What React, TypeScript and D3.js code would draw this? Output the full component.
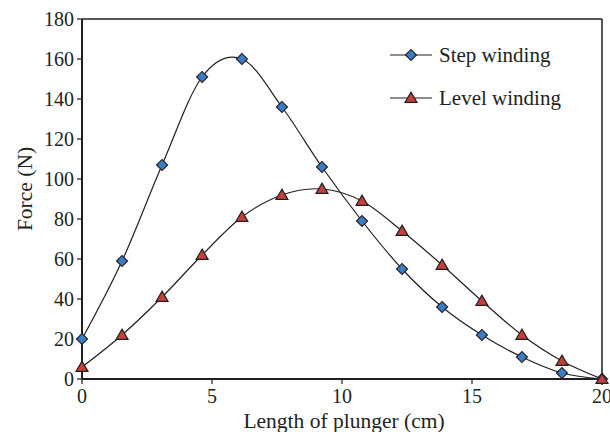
import React from 'react'
import * as d3 from 'd3'

// x positions (cm) of the measured points
const lengths = [0, 1.54, 3.08, 4.62, 6.15, 7.69, 9.23, 10.77, 12.31, 13.85, 15.38, 16.92, 18.46, 20]
const stepWinding = [20, 59, 107, 151, 160, 136, 106, 79, 55, 36, 22, 11, 3, 0]
const levelWinding = [6, 22, 41, 62, 81, 92, 95, 89, 74, 57, 39, 22, 9, 0]
const xTicks = [0, 5, 10, 15, 20]
const yTicks = [0, 20, 40, 60, 80, 100, 120, 140, 160, 180]
const seriesNames = ['Step winding', 'Level winding']

const W = 610
const H = 432
const left = 82
const right = 602
const top = 19
const bottom = 379

const font = '"Liberation Serif", "Times New Roman", serif'
const blue = '#3b7cc6'
const red = '#c3403d'
const ink = '#231f20'

const App = () => {
    const x = d3.scaleLinear().domain([0, 20]).range([left, right])
    const y = d3.scaleLinear().domain([0, 180]).range([bottom, top])

    const curve = d3.line<number>()
        .x((_, i) => x(lengths[i]))
        .y(v => y(v))
        .curve(d3.curveCardinal.tension(0))

    const diamond = d3.symbol(d3.symbolSquare, 60)()
    const triangle = d3.symbol(d3.symbolTriangle, 62)()

    const Diamond = ({ cx, cy }: { cx: number, cy: number }) => (
        <path d={diamond ?? ''} transform={`translate(${cx},${cy}) rotate(45)`}
            fill={blue} stroke={ink} strokeWidth={1.2} />
    )
    const Triangle = ({ cx, cy }: { cx: number, cy: number }) => (
        <path d={triangle ?? ''} transform={`translate(${cx},${cy + 1})`}
            fill={red} stroke={ink} strokeWidth={1.2} />
    )

    return (
        <svg width={W} height={H} style={{ position: 'absolute', left: 0, top: 0, background: '#fff' }}
            fontFamily={font}>
            {/* frame */}
            <line x1={left} x2={right} y1={top} y2={top} stroke={ink} strokeWidth={1.5} />
            <line x1={right} x2={right} y1={top} y2={bottom} stroke={ink} strokeWidth={1.5} />

            {/* curves */}
            <path d={curve(stepWinding) ?? ''} fill="none" stroke={ink} strokeWidth={1.2} />
            <path d={curve(levelWinding) ?? ''} fill="none" stroke={ink} strokeWidth={1.2} />

            {/* axes */}
            <line x1={left} x2={left} y1={top} y2={bottom} stroke={ink} strokeWidth={2} />
            <line x1={left} x2={right} y1={bottom} y2={bottom} stroke={ink} strokeWidth={2} />
            {yTicks.map(t => (
                <g key={'y' + t}>
                    <line x1={left - 5} x2={left} y1={y(t)} y2={y(t)} stroke={ink} strokeWidth={1.2} />
                    <text x={left - 8} y={y(t)} dy="0.34em" textAnchor="end" fontSize={20} fill={ink}>{t}</text>
                </g>
            ))}
            {xTicks.map(t => (
                <g key={'x' + t}>
                    <line x1={x(t)} x2={x(t)} y1={bottom} y2={bottom + 5} stroke={ink} strokeWidth={1.2} />
                    <text x={x(t)} y={403} textAnchor="middle" fontSize={20} fill={ink}>{t}</text>
                </g>
            ))}

            {/* markers */}
            {stepWinding.map((v, i) => <Diamond key={'s' + i} cx={x(lengths[i])} cy={y(v)} />)}
            {levelWinding.map((v, i) => <Triangle key={'l' + i} cx={x(lengths[i])} cy={y(v)} />)}

            {/* axis titles */}
            <text x={(left + right) / 2 + 2} y={428} textAnchor="middle" fontSize={21.5} fill={ink}>
                Length of plunger (cm)
            </text>
            <text transform={`translate(32,${(top + bottom) / 2 - 10}) rotate(-90)`} textAnchor="middle"
                fontSize={21.5} fill={ink}>Force (N)</text>

            {/* legend */}
            {seriesNames.map((name, i) => {
                const ly = 55 + i * 43
                return (
                    <g key={name}>
                        <line x1={390} x2={432} y1={ly} y2={ly} stroke={ink} strokeWidth={1.2} />
                        {i === 0 ? <Diamond cx={411} cy={ly} /> : <Triangle cx={411} cy={ly} />}
                        <text x={439} y={ly} dy="0.34em" fontSize={21} fill={ink}>{name}</text>
                    </g>
                )
            })}
        </svg>
    )
}

export default App
